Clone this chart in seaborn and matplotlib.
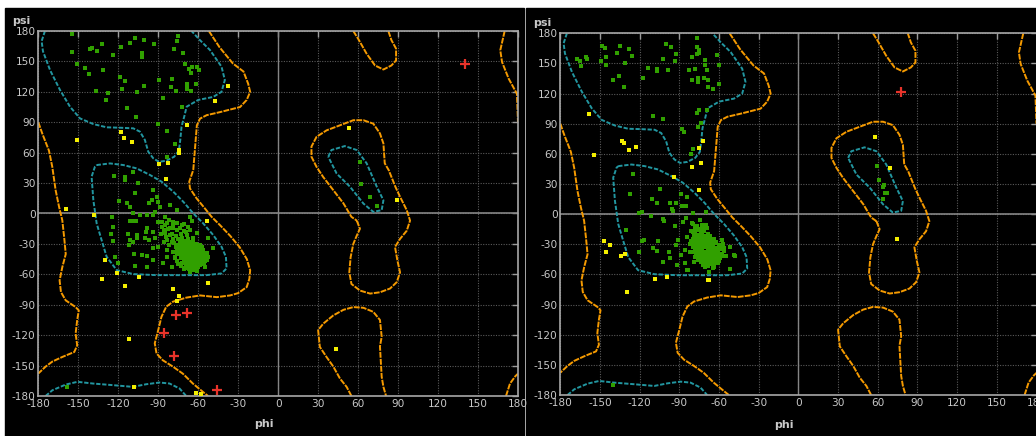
import matplotlib
matplotlib.use("Agg")
import matplotlib.pyplot as plt
from matplotlib.patches import Rectangle
import seaborn as sns
import pandas as pd

sns.set_style("dark")
plt.rcParams['font.family'] = ['DejaVu Sans']
plt.rcParams['axes.unicode_minus'] = False

# ---------------- data: tick labels ----------------
tick_values = list(range(-180, 181, 30))
x_label = "phi"
y_label = "psi"

# ---------------- data: contour lines (phi, psi) ----------------
cyan_beta_phi = [-175, -177.5, -176.5, -171.2, -163.7, -156.2, -148.7, -138.7, -128.7, -118.7, -108.7, -103.7, -100, -97.5, -93.7, -89.5, -84, -78, -74.5, -73.5, -72.5, -70.5, -68.7, -60, -48.7, -42.5, -40, -42.5, -51.2, -58.7, -65]
cyan_beta_psi = [180, 170, 160, 141.5, 121.8, 105.3, 93.8, 88.2, 85, 84.6, 84, 80.7, 72.5, 61, 54.4, 51, 52, 56, 62, 72, 85.6, 95.5, 105.3, 112, 115, 120, 131.7, 144.8, 161.3, 171, 180]
cyan_bottom_phi = [-174.5, -169.4, -159.4, -150.6, -139, -124, -109, -99, -89, -81.5, -74, -69]
cyan_bottom_psi = [-180, -174.3, -168.7, -166, -167.7, -169.3, -171, -168.4, -166.7, -167.7, -172.6, -180]
cyan_alpha_phi = [-136.2, -126.2, -116.2, -106.2, -96.2, -87.5, -78.7, -71.2, -63.7, -56.2, -48.7, -42.5, -39.2, -38.7, -42.5, -53.7, -71.2, -91.2, -108.7, -121.2, -128.7, -132.5, -136.2, -138.7, -140, -137.5, -136.2]
cyan_alpha_psi = [47.8, 49.4, 47.8, 44.5, 38, 31.4, 21.5, 11.6, 0.1, -9.8, -21.3, -32.8, -42.7, -54.2, -59.1, -60.8, -60.8, -60.8, -59.8, -55.8, -42.7, -26.2, -9.8, 13.3, 36.3, 46.2, 47.8]
cyan_alphaL_phi = [37.6, 40, 50, 59, 66.4, 74, 79, 77.7, 71.4, 64, 54, 43.9, 37.6]
cyan_alphaL_psi = [56, 62.6, 66.5, 62.6, 49.5, 26.5, 13, 3.3, 1.6, 9.8, 26.3, 39.4, 56]

orange_left_phi = [-180, -177, -172, -169.5, -167, -164.4, -162, -160.6, -159.4, -162, -164, -163, -159.4, -152, -149.6, -150.8, -152, -150.8, -153, -162, -169.4, -174.5, -180]
orange_left_psi = [90, 78.8, 62, 46, 23, 6.5, -6.6, -23.4, -40, -53, -66, -77.5, -85.7, -92.3, -95.6, -105, -118.5, -130, -136.6, -141.5, -146, -151, -157.8]
orange_rtop_phi = [170, 166.7, 168, 173, 179.2, 180]
orange_rtop_psi = [180, 161, 149.5, 133, 118, 90]
orange_rbot_phi = [171, 174, 178, 180]
orange_rbot_psi = [-180, -167.7, -160.5, -158]
orange_main_phi = [-52, -44, -34, -26, -22.5, -21, -23.6, -28.6, -43.6, -53.6, -58.6, -61, -62.5, -63.7, -66.7, -66.2, -61.2, -55, -50, -43.7, -36, -29, -23.5, -21, -21.6, -23.6, -30, -36, -46, -58.6, -69, -79, -84, -87.6, -90, -92.6, -91.3, -86.5, -79, -71.5, -64, -56.4, -52.6]
orange_main_psi = [180, 164, 148, 140, 128, 120, 112, 105, 100, 97, 93.6, 87, 62.6, 42.9, 31.4, 24.8, 14.9, 5, -3.2, -11.4, -22, -33, -45, -56, -64.4, -72.6, -78.5, -80.8, -82.5, -80.8, -83, -87, -92, -102, -115, -128, -138, -144.8, -151, -158, -167.7, -176, -180]
orange_alphaL_phi = [59, 61.4, 59, 56.4, 54.4, 53.4, 55, 61.4, 69, 76.4, 84, 89, 91.5, 89.5, 87.7, 91.5, 96.5, 99, 96.5, 91.5, 88, 83, 80, 79, 76.4, 71.4, 64, 56.4, 46.4, 36.3, 28.8, 25, 25, 28.8, 33.8, 41.4, 49, 55, 59]
orange_alphaL_psi = [-7, -15, -21.8, -30, -43, -58, -69.5, -76, -79, -77.7, -74, -67.7, -58, -46.4, -33, -25, -17, -7, 3.3, 16.4, 26.3, 42.7, 49.5, 69, 79, 88.6, 92, 92, 87, 82, 75.6, 66, 56, 46, 36, 23, 10, -3.3, -7]
orange_bmid_phi = [55, 51.4, 46.4, 41.4, 36.3, 31.3, 30, 33.8, 41.4, 49, 56.4, 64, 71.4, 76.4, 77.7, 76.4, 77.7, 79, 81]
orange_bmid_psi = [-180, -171, -162.8, -151, -141.5, -131.6, -115, -108.7, -100.5, -95, -92.3, -93, -97, -105, -121.6, -131, -161, -171, -180]
orange_tmid_phi = [56.4, 60, 66.4, 72.7, 79, 85, 88.5, 88.5, 85, 82.7]
orange_tmid_psi = [180, 172.4, 157.6, 146, 142, 146, 151, 162.6, 171, 180]

# ---------------- data: left panel residues ----------------
left_green_phi = [
    -155, -155, -141.2, -140, -132.2, -135.7, -118, -124, -111.5, -107.5, -100.5, -93, -102, -102,
    -75.5, -76.2, -78.5, -71.7, -151.2, -145.2, -141.7, -131.5, -119, -115, -117.4, -100.5, -105.7,
    -136.5, -127.7, -129.2, -89.5, -79.7, -80.5, -76.7, -70, -67, -65, -65.5, -61.2, -59.7, -68.7,
    -68.7, -68.7, -62, -65.7, -86.5, -113.7, -106.5, -72.2, -90, -83.7, -77.7, -83.5,
    -123.2, -115, -115, -109.2, -105.4, -107.7, -119.2, -113.7, -111.2, -108.7, -124.7, -109.2, -111, -107,
    -123.7, -125.2, -124.2, -113, -111.2, -111.7, -109, -122.5, -120, -107.7, -108.5, -102.4, -98.7,
    -98.2, -93.7, -90, -93.7, -105.7, -106, -99.5, -100, -98.2, -93.7, -92.5, -97, -103.7, -98.7,
    -93.7, -92.5, -96.7, -93.7, -91.2, -90, -95, -88.7, -81.2, -75.7, -87.5, -87.5, -83.7, -81.2,
    -78.7, -76.2, -72.5, -81.2, -85, -66.2, -65, -83.7, -80, -76.2, -83.7, -83.7, -86.2, -80, -77.5,
    -75.7, -66.2, -68.7, -63.7, -61.2, -56.2, -53.7, -48.7, -52.5, -53.7, -55, -61.7,
    -74, -71, -68, -65, -62, -59, -73, -70, -67, -64, -61, -58, -75, -72, -69, -66, -63, -60, -57,
    -74, -71, -68, -65, -62, -59, -56, -73, -70, -67, -64, -61, -58, -72, -69, -66, -63, -60, -67,
    -64, -70, -76, -76, -55, -57, -62, -66, -69, -64, -60, -71, -68, -65, -62, -73,
    -72.5, -69.5, -66.5, -63.5, -60.5, -57.5, -74, -71.5, -68.5, -65.5, -62.5, -59.5, -56.5, -73.5,
    -70.5, -67.5, -64.5, -61.5, -58.5, -55.5, -73, -70, -67, -64, -61, -58, -55, -71, -68, -65, -62,
    -59, -56, -68.5, -65.5, -62.5, -61, -66, -54, -52.5, -77, -77.5, -75, -71, -79, -78, -75, -72,
    -68, -64,
    -85, -82, -79, -76, -86, -83, -79, -74, -71, -84, -80, -77, -73, -69, -86, -82, -79, -88, -90,
    -85, -71, -68,
    -158.4, 61.2, 61.9, 68.7, 74.4]
left_green_psi = [
    176.7, 159, 162, 163, 167, 160, 164, 156, 168, 173, 171, 167, 158, 154,
    175.4, 170, 162, 158, 147, 143.5, 138, 141.5, 134.6, 130.7, 123, 126, 120,
    121, 118.5, 111.6, 131.7, 132.6, 125, 120.5, 147.8, 142.5, 144, 139, 144.5, 141.5, 127.7,
    125, 123, 128, 121, 113.6, 103.7, 94.8, 105, 88, 81.7, 68.5, 56,
    37, 36.3, 33, 40.9, 30, 20.5, 12.3, 10.6, 6.7, 0.5, -3.2, -7.5, -7.8, -7,
    -13.7, -20.3, -26.9, -20.3, -26.2, -31.2, -28, -42.7, -48.6, -51.5, -40, -40.7, -42,
    -52.5, -46, -33.4, -34.4, -21.3, -24.5, -18, -24.6, -14.7, -18, -24.6, -26.5, -1.5, -1.5,
    -1.5, 1.7, 10, 23.1, 16.5, 11.6, 13.5, 6.7, 8.3, 3.4, -8.1, -13, -9.8, -14.7,
    -11.5, -16.4, -11.5, -21.3, -19.5, -3.2, -7, -26.2, -27.8, -31.2, -36.1, -42.7, -49.2, -52.5, -44.3,
    -36.1, -16.4, -21.3, -24.6, -19.5, -36, -39.4, -34.4, -24.6, -46, -52.5, -54.2,
    -28, -27, -29, -28, -30, -31, -32, -31, -33, -32, -34, -35, -35, -36, -37, -36, -38, -39, -40,
    -40, -41, -42, -41, -43, -44, -45, -44, -46, -47, -46, -48, -49, -49, -51, -52, -51, -53, -55,
    -56, -54, -47, -40, -43, -48, -36, -39, -44, -44, -46, -38, -34, -48, -50, -52,
    -30, -29.5, -30.5, -31, -32.5, -33, -34, -33.5, -35, -34.5, -35.5, -37, -38, -38,
    -39, -40, -39.5, -41, -42, -41.5, -42.5, -43.5, -44.5, -43, -45.5, -46.5, -47, -47.5, -48.5, -50, -47,
    -51, -50, -52.5, -53.5, -54.5, -57, -57.5, -38.5, -43, -33, -43, -50, -55, -38, -29, -25, -24,
    -25, -27,
    -11, -6, -8, -9, -16, -15, -14, -14, -17, -23, -20, -22, -20, -18, -28, -31, -25, -20, -8,
    -3, -10, -13,
    -171, 50.9, 29.2, 16.1, 7.5]
left_yellow_phi = [-37.9, -47.7, -68.2, -151.2, -118, -116, -110, -74.7, -74.7, -89.5, -82.7, -84.2,
                   -159.2, -138.2, -53.2, -129.7, -120.7, -132.5, -115, -104.6, -78.7, -74.7, -76.2,
                   -52.6, -111.9, -108, -61.4, -58.1, 52.9, 89.2, 43.4]
left_yellow_psi = [126, 110.6, 87.3, 72.8, 80.7, 74.7, 70.8, 62.6, 60, 48.5, 49.4, 33.7,
                   4.4, -1.5, -7.8, -45.4, -58.5, -64.8, -71.3, -62.8, -74.3, -81, -86,
                   -68.4, -123.4, -171, -176.9, -178.5, 84.4, 13.4, -133.3]
left_red_phi = [-77, -68.2, -85.5, -78, -46, 140.1]
left_red_psi = [-100.5, -98.2, -117.9, -140.8, -174.3, 147.5]

# ---------------- data: right panel residues ----------------
right_green_phi = [
    -148.7, -146.2, -134.6, -145.7, -149.5, -145.4, -137.4, -127.8, -125.8, -130.8, -167.6, -165.3,
    -160.5, -159.5, -164.1, -135.8, -140.4, -131.5, -117.4, -113.9, -106.6, -106.6, -98.3, -102.1,
    -93.3, -92.5, -99.8, -96.3, -76.9, -76.9, -74.9, -74.9, -76.9, -80.4, -70.6, -70.3, -61.5, -60,
    -82.7, -78.1, -68.8, -80.4, -76.1, -76.1, -71.1, -68.6, -68.1, -64.5, -60, -109.9, -102.1,
    -76.9, -74.9, -68.8, -76.1, -73.3, -88, -86.4, -79.9, -81.4,
    -124.8, -127.1, -104.4, -110.9, -106.6, -96.8, -92.8, -88.7, -84.5, -87.7, -85.2, -95.8, -94.5,
    -120.5, -118, -79.4, -69.8, -111.4, -102.6, -101.3, -85.2, -93.3, -87, -130.1, -118, -116.5,
    -105.9, -120.5, -110.2, -107.1, -97.8, -97.1, -102.1, -92, -91.3, -92.8, -84.5, -80.7, -74.4,
    -81.2, -85.7, -88.7, -85.7, -83.2, -70.6, -64.3, -51.7, -47.9, -51.7, -58, -73.1, -69.3, -78.7,
    -67.6, -63.8, -52, -48.5, -84.5,
    -80, -77, -74, -71, -68, -79, -76, -73, -70, -67, -64, -81, -78, -75, -72, -69, -66, -63, -60,
    -80, -77, -74, -71, -68, -65, -62, -59, -56, -79, -76, -73, -70, -67, -64, -61, -58, -78, -75,
    -72, -69, -66, -63, -60, -74, -70, -66, -62, -77, -73, -76, -69, -65, -71, -67, -57,
    -78.5, -75.5, -72.5, -69.5, -66.5, -80, -77, -74, -71, -68, -65, -62, -79.5, -76.5, -73.5,
    -70.5, -67.5, -64.5, -61.5, -58.5, -78.5, -75.5, -72.5, -69.5, -66.5, -63.5, -60.5, -57.5,
    -77.5, -74.5, -71.5, -68.5, -65.5, -62.5, -59.5, -76, -73, -70, -67, -64, -61, -72, -68, -64,
    -78, -75, -72, -70, -80, -82, -82, -56, -55, -79,
    -140, 59.2, 61.2, 64.2, 64.5, 65.5, 67.2, 64]
right_green_psi = [
    167.7, 165.7, 167.7, 156.8, 152.1, 148.1, 160.7, 164.4, 157.8, 150.1, 154.1, 152.4,
    156.8, 154.8, 147.1, 137.5, 133.5, 126.6, 135.5, 145.1, 144.8, 142.8, 143.2, 154.8,
    152.8, 159.4, 169.4, 166.7, 175.3, 166.7, 163.4, 160.1, 159.4, 156.1, 153.8, 148.5, 158.7, 148.1,
    143.2, 144.2, 143.2, 133.5, 135.2, 131.9, 135.5, 133.5, 126.6, 124.9, 129.9, 97.7, 94.7,
    100.4, 103.3, 103.3, 87.1, 90.4, 84.8, 82.1, 64.9, 59.9,
    40.3, 20.1, 24.7, 15.1, 11.4, 11.4, 11.4, 20.1, 17.4, 8.4, 8.4, 4.8, 3.5,
    0.8, 2.1, 0.8, 1.8, -1.8, -5.2, -6.5, -4.2, -11.8, -7.5, -15.8, -27, -26,
    -26.4, -37.3, -33.4, -36.4, -37.3, -44, -48, -50.6, -25.7, -30.7, -22.4, -9.1, -5.8,
    -16.4, -35.7, -40.7, -49, -55.6, -52.3, -54, -55, -41.7, -32.4, -25.7, -10.8, -14.1, -25.7,
    -57.9, -53, -33, -41, -55.6,
    -18, -16, -19, -17, -20, -22, -23, -22, -24, -23, -25, -27, -28, -27, -29, -28, -30, -29, -31,
    -33, -32, -34, -33, -35, -34, -36, -35, -37, -38, -39, -38, -40, -39, -41, -40, -42, -43, -44,
    -45, -43, -46, -45, -47, -48, -49, -50, -49, -12, -13, -36, -31, -38, -26, -44, -30,
    -20, -20.5, -21, -21.5, -22, -25, -25.5, -25, -26.5, -26, -27, -27.5, -30, -30.5, -31,
    -30, -32.5, -32, -33.5, -33, -35.5, -36.5, -36, -37.5, -37, -38.5, -38, -39.5,
    -40.5, -41.5, -41, -42, -43, -43.5, -44, -46, -47, -46.5, -48, -47.5, -49, -51, -52, -51.5,
    -14, -14.5, -15, -11, -10, -30, -38, -34, -42, -48,
    -170, 47.9, 33.6, 27.3, 29, 20.7, 20.7, 15]
right_yellow_phi = [-158.1, -133.1, -132.1, -122.7, -127.8, -154.5, -71.8, -74.9, -80.7, -73.9, -94, -74.9,
                    -147.2, -142.7, -145.5, -133.9, -130.9, -108.2, -99.4, -68.6, -67.6, -129.6,
                    57.9, 69.3, 74.3]
right_yellow_psi = [99.7, 72.8, 70.5, 66.5, 63.9, 58.9, 72.8, 65.5, 46.6, 51.2, 36.6, 24,
                    -26.7, -30.4, -38, -42, -39.3, -64.5, -62.2, -65.5, -65.5, -77.8,
                    76.4, 45.6, -24.7]
right_red_phi = [77.6]
right_red_psi = [121.9]

# ---------------- style ----------------
C_ORANGE = "#f59a00"
C_CYAN = "#2296a0"
C_GREEN = "#31a000"
C_YELLOW = "#f4ef00"
C_RED = "#e8332a"
C_TEXT = "#c8c8c8"

cyan_lines = [(cyan_beta_phi, cyan_beta_psi), (cyan_bottom_phi, cyan_bottom_psi),
              (cyan_alpha_phi, cyan_alpha_psi), (cyan_alphaL_phi, cyan_alphaL_psi)]
orange_lines = [(orange_left_phi, orange_left_psi), (orange_rtop_phi, orange_rtop_psi),
                (orange_rbot_phi, orange_rbot_psi), (orange_main_phi, orange_main_psi),
                (orange_alphaL_phi, orange_alphaL_psi), (orange_bmid_phi, orange_bmid_psi),
                (orange_tmid_phi, orange_tmid_psi)]

W, H = 1036, 436
fig = plt.figure(figsize=(W / 100, H / 100), dpi=100, facecolor="white")
# black panel backgrounds, drawn behind the axes
bg = fig.add_axes([0, 0, 1, 1], zorder=-10)
bg.set_xlim(0, W)
bg.set_ylim(H, 0)
bg.axis("off")
bg.add_patch(Rectangle((5, 8), 519, H - 8, color="black"))
bg.add_patch(Rectangle((526, 8), W - 526, H - 8, color="black"))


def make_panel(rect, gphi, gpsi, yphi, ypsi, rphi, rpsi, psi_xy, phi_xy):
    ax = fig.add_axes(rect)
    ax.set_facecolor("black")
    ax.set_xlim(-180, 180)
    ax.set_ylim(-180, 180)
    ax.set_xticks(tick_values)
    ax.set_yticks(tick_values)
    ax.set_xticklabels([str(v) for v in tick_values])
    ax.set_yticklabels([str(v) for v in tick_values])
    ax.tick_params(axis="both", which="both", direction="in", length=4, width=1,
                   color="#9a9a9a", labelcolor=C_TEXT, labelsize=7.6, pad=2,
                   right=True, top=True)
    ax.grid(True, color="#5a5a5a", linestyle=(0, (1, 1.3)), linewidth=0.8)
    ax.set_axisbelow(True)
    for sp in ax.spines.values():
        sp.set_color("#a8a8a8")
        sp.set_linewidth(1.2)
    ax.axhline(0, color="#858585", lw=1.2, zorder=1)
    ax.axvline(0, color="#858585", lw=1.0, zorder=1)

    for xs, ys in orange_lines:
        sns.lineplot(x=xs, y=ys, sort=False, estimator=None, ax=ax, color=C_ORANGE,
                     linewidth=1.4, linestyle=(0, (3, 0.6)), zorder=2)
    for xs, ys in cyan_lines:
        sns.lineplot(x=xs, y=ys, sort=False, estimator=None, ax=ax, color=C_CYAN,
                     linewidth=1.4, linestyle=(0, (2.2, 0.9)), zorder=2)

    sns.scatterplot(x=gphi, y=gpsi, ax=ax, marker="s", s=7.5, color=C_GREEN,
                    linewidth=0, zorder=3)
    sns.scatterplot(x=yphi, y=ypsi, ax=ax, marker="s", s=8, color=C_YELLOW,
                    linewidth=0, zorder=4)
    sns.scatterplot(x=rphi, y=rpsi, ax=ax, marker="+", s=55, color=C_RED,
                    linewidth=1.6, zorder=5)
    ax.set_xlabel("")
    ax.set_ylabel("")

    fig.text(psi_xy[0] / W, 1 - psi_xy[1] / H, y_label, color=C_TEXT, fontsize=8,
             fontweight="bold", ha="left", va="top")
    fig.text(phi_xy[0] / W, 1 - phi_xy[1] / H, x_label, color=C_TEXT, fontsize=8,
             fontweight="bold", ha="center", va="top")
    return ax


make_panel([38.3 / W, 1 - 396 / H, (518 - 38.3) / W, (396 - 31) / H],
           left_green_phi, left_green_psi, left_yellow_phi, left_yellow_psi,
           left_red_phi, left_red_psi, (12, 16), (264, 419))
make_panel([560.3 / W, 1 - 395 / H, (1036.5 - 560.3) / W, (395 - 33.3) / H],
           right_green_phi, right_green_psi, right_yellow_phi, right_yellow_psi,
           right_red_phi, right_red_psi, (533, 18), (784, 420))

fig.savefig("out.png", dpi=100, facecolor="white")
